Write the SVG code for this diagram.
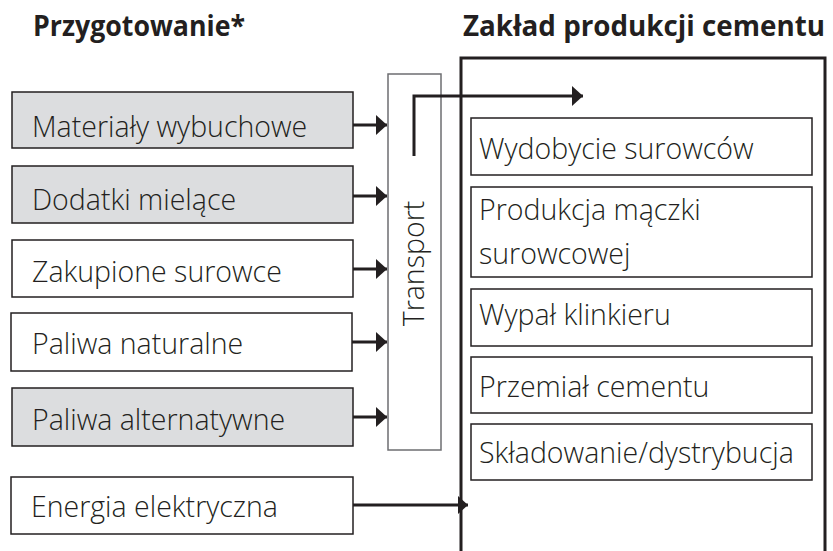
<svg xmlns="http://www.w3.org/2000/svg" width="833" height="551" viewBox="0 0 833 551">
<style>
.t{font-family:"Open Sans","Liberation Sans",sans-serif;font-weight:300;font-size:28.5px;fill:#231f20}
.h{font-family:"Open Sans","Liberation Sans",sans-serif;font-weight:700;font-size:28px;fill:#231f20}
.g{fill:#dcdddf;stroke:#231f20;stroke-width:1.5}
.w{fill:#fff;stroke:#231f20;stroke-width:1.5}
.c{fill:none;stroke:#231f20;stroke-width:3}
</style>
<defs>
<marker id="ah" markerWidth="11" markerHeight="20" refX="11" refY="10" orient="auto" markerUnits="userSpaceOnUse">
<path d="M0,0 L11,10 L0,20 Z" fill="#231f20"/>
</marker>
<marker id="ah2" markerWidth="10" markerHeight="18" refX="10" refY="9" orient="auto" markerUnits="userSpaceOnUse">
<path d="M0,0 L10,9 L0,18 Z" fill="#231f20"/>
</marker>
</defs>
<rect width="833" height="551" fill="#fff"/>
<text class="h" x="33" y="36" textLength="212" lengthAdjust="spacingAndGlyphs">Przygotowanie*</text>
<text class="h" x="463" y="36" textLength="362" lengthAdjust="spacingAndGlyphs">Zakład produkcji cementu</text>
<g id="plant"><path d="M461,551 V58 H825 V551" fill="none" stroke="#231f20" stroke-width="3"/></g>
<g id="n1"><rect class="g" x="12" y="92" width="341" height="56"/><text class="t" x="32" y="137">Materiały wybuchowe</text></g>
<g id="n2"><rect class="g" x="12" y="166" width="341" height="57"/><text class="t" x="32" y="210">Dodatki mielące</text></g>
<g id="n3"><rect class="w" x="12" y="240" width="341" height="57"/><text class="t" x="32" y="282">Zakupione surowce</text></g>
<g id="n4"><rect class="w" x="11" y="313" width="341" height="58"/><text class="t" x="32" y="354">Paliwa naturalne</text></g>
<g id="n5"><rect class="g" x="12" y="388" width="341" height="58"/><text class="t" x="32" y="430">Paliwa alternatywne</text></g>
<g id="n6"><rect class="w" x="11" y="477" width="342" height="57"/><text class="t" x="31" y="517">Energia elektryczna</text></g>
<g id="transport"><rect x="388" y="74" width="53" height="376" fill="#fff" stroke="#6d6e71" stroke-width="1.5"/><text class="t" transform="translate(424,263.5) rotate(-90)" text-anchor="middle">Transport</text></g>
<g id="s1"><rect class="w" x="471" y="118" width="341" height="57"/><text class="t" x="479" y="159">Wydobycie surowców</text></g>
<g id="s2"><rect class="w" x="471" y="187" width="341" height="90"/><text class="t" x="479" y="220">Produkcja mączki</text><text class="t" x="479" y="264">surowcowej</text></g>
<g id="s3"><rect class="w" x="471" y="289" width="341" height="57"/><text class="t" x="479" y="325">Wypał klinkieru</text></g>
<g id="s4"><rect class="w" x="471" y="357" width="341" height="56"/><text class="t" x="479" y="397">Przemiał cementu</text></g>
<g id="s5"><rect class="w" x="471" y="424" width="341" height="56"/><text class="t" x="479" y="463">Składowanie/dystrybucja</text></g>
<g id="connectors">
<line class="c" x1="353" y1="125" x2="387" y2="125" marker-end="url(#ah)"/>
<line class="c" x1="353" y1="196" x2="387" y2="196" marker-end="url(#ah)"/>
<line class="c" x1="353" y1="269" x2="387" y2="269" marker-end="url(#ah)"/>
<line class="c" x1="352" y1="342" x2="387" y2="342" marker-end="url(#ah)"/>
<line class="c" x1="353" y1="417" x2="387" y2="417" marker-end="url(#ah)"/>
<polyline class="c" points="414,156 414,96 583,96" marker-end="url(#ah)"/>
<line class="c" x1="353" y1="505" x2="468" y2="505" marker-end="url(#ah2)"/>
</g>
</svg>
